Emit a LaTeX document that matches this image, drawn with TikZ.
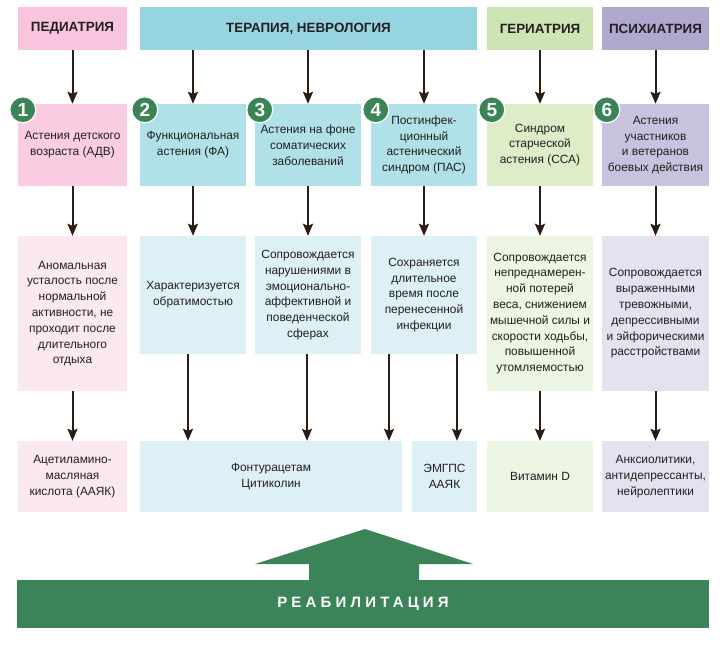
\documentclass[tikz,border=0pt]{standalone}
\usepackage{fontspec}
\setmainfont{Liberation Sans}
\usetikzlibrary{arrows.meta,positioning,calc}
\definecolor{txt}{HTML}{231F20}
\definecolor{arrc}{HTML}{2B1D14}
\definecolor{dgreen}{HTML}{3A8457}
\definecolor{pinkH}{HTML}{F9C4DE}
\definecolor{pinkM}{HTML}{FACDE3}
\definecolor{pinkL}{HTML}{FCE8F1}
\definecolor{tealH}{HTML}{96D5E0}
\definecolor{tealM}{HTML}{B0E0E8}
\definecolor{tealL}{HTML}{DDF0F5}
\definecolor{greenH}{HTML}{CDE5B4}
\definecolor{greenM}{HTML}{DCEDC8}
\definecolor{greenL}{HTML}{EDF5E3}
\definecolor{purpH}{HTML}{B0A8CF}
\definecolor{purpM}{HTML}{C8C2DF}
\definecolor{purpL}{HTML}{E4E1F0}

\begin{document}
\begin{tikzpicture}[x=1pt, y=-1pt,
  every node/.style={align=center, text=txt},
  hdr/.style={minimum height=43pt, inner sep=0pt, font=\fontsize{13.4}{15}\selectfont\bfseries},
  box/.style={inner sep=0pt, font=\fontsize{11.9}{15.8}\selectfont},
  num/.style={circle, fill=dgreen, draw=white, line width=1.2pt, minimum size=26pt,
              inner sep=0pt, text=white, font=\fontsize{19}{19}\selectfont\bfseries},
  arr/.style={-{Stealth[length=12pt, width=10pt, inset=2pt]}, line width=2pt, draw=arrc},
]
  \useasboundingbox (0,0) rectangle (720,649);

  % Top row: specialities
  \node[hdr, fill=pinkH,  minimum width=109pt] (hPed) at (72.5,28.5)  {ПЕДИАТРИЯ};
  \node[hdr, fill=tealH,  minimum width=337pt] (hTer) at (308.5,28.5) {ТЕРАПИЯ, НЕВРОЛОГИЯ};
  \node[hdr, fill=greenH, minimum width=106pt] (hGer) at (540,28.5)   {ГЕРИАТРИЯ};
  \node[hdr, fill=purpH,  minimum width=107pt] (hPsy) at (655.5,28.5) {ПСИХИАТРИЯ};

  % Second row: forms of asthenia
  \node[box, fill=pinkM,  minimum width=109pt, minimum height=82pt] (d1) at (72.5,145)
    {Астения детского\\возраста (АДВ)};
  \node[box, fill=tealM,  minimum width=106pt, minimum height=82pt] (d2) at (193,145)
    {Функциональная\\астения (ФА)};
  \node[box, fill=tealM,  minimum width=106pt, minimum height=82pt] (d3) at (308,145)
    {Астения на фоне\\соматических\\заболеваний};
  \node[box, fill=tealM,  minimum width=106pt, minimum height=82pt] (d4) at (424,145)
    {Постинфек-\\ционный\\астенический\\синдром (ПАС)};
  \node[box, fill=greenM, minimum width=106pt, minimum height=82pt] (d5) at (540,145)
    {Синдром\\старческой\\астения (ССА)};
  \node[box, fill=purpM,  minimum width=107pt, minimum height=82pt] (d6) at (655.5,145)
    {Астения\\участников\\и ветеранов\\боевых действия};

  % Numbers
  \foreach \i in {1,...,6}
    \node[num] (n\i) at ([shift={(5pt,-6pt)}]d\i.north west) {\i};

  % Third row: features
  \node[box, fill=pinkL,  minimum width=109pt, minimum height=155pt] (f1) at (72.5,313.5)
    {Аномальная\\усталость после\\нормальной\\активности, не\\проходит после\\длительного\\отдыха};
  \node[box, fill=tealL,  minimum width=106pt, minimum height=118pt] (f2) at (193,295)
    {Характеризуется\\обратимостью};
  \node[box, fill=tealL,  minimum width=106pt, minimum height=118pt] (f3) at (308,295)
    {Сопровождается\\нарушениями в\\эмоционально-\\аффективной и\\поведенческой\\сферах};
  \node[box, fill=tealL,  minimum width=106pt, minimum height=118pt] (f4) at (424,295)
    {Сохраняется\\длительное\\время после\\перенесенной\\инфекции};
  \node[box, fill=greenL, minimum width=106pt, minimum height=155pt] (f5) at (540,313.5)
    {Сопровождается\\непреднамерен-\\ной потерей\\веса, снижением\\мышечной силы и\\скорости ходьбы,\\повышенной\\утомляемостью};
  \node[box, fill=purpL,  minimum width=107pt, minimum height=155pt] (f6) at (655.5,313.5)
    {Сопровождается\\выраженными\\тревожными,\\депрессивными\\и эйфорическими\\расстройствами};

  % Bottom row: drugs
  \node[box, fill=pinkL,  minimum width=109pt, minimum height=71pt] (m1) at (72.5,476.5)
    {Ацетиламино-\\масляная\\кислота (ААЯК)};
  \node[box, fill=tealL,  minimum width=262pt, minimum height=71pt] (mFC) at (271,476.5)
    {Фонтурацетам\\Цитиколин};
  \node[box, fill=tealL,  minimum width=65pt,  minimum height=71pt] (mEM) at (444.5,476.5)
    {ЭМГПС\\ААЯК};
  \node[box, fill=greenL, minimum width=106pt, minimum height=71pt] (m5) at (540,476.5)
    {Витамин D};
  \node[box, fill=purpL,  minimum width=107pt, minimum height=71pt] (m6) at (655.5,476.5)
    {Анксиолитики,\\антидепрессанты,\\нейролептики};

  % Arrows: headers to forms
  \draw[arr] (hPed) -- (d1);
  \draw[arr] (hTer.south -| d2) -- (d2);
  \draw[arr] (hTer.south -| d3) -- (d3);
  \draw[arr] (hTer.south -| d4) -- (d4);
  \draw[arr] (hGer) -- (d5);
  \draw[arr] (hPsy) -- (d6);

  % Arrows: forms to features
  \foreach \i in {1,...,6}
    \draw[arr] (d\i) -- (f\i);

  % Arrows: features to drugs
  \draw[arr] (f1) -- (m1);
  \draw[arr] ([xshift=-5pt]f2.south) -- ([xshift=-5pt]f2.south |- mFC.north);
  \draw[arr] ([xshift=-1pt]f3.south) -- ([xshift=-1pt]f3.south |- mFC.north);
  \draw[arr] ([xshift=-35pt]f4.south) -- ([xshift=-35pt]f4.south |- mFC.north);
  \draw[arr] ([xshift=33pt]f4.south) -- ([xshift=33pt]f4.south |- mEM.north);
  \draw[arr] (f5) -- (m5);
  \draw[arr] (f6) -- (m6);

  % Rehabilitation banner
  \node[fill=dgreen, minimum width=692pt, minimum height=48pt, inner sep=0pt,
        text=white, font=\fontsize{15}{15}\selectfont\bfseries\addfontfeature{LetterSpace=28}]
    (reab) at (363,604) {РЕАБИЛИТАЦИЯ};
  \fill[dgreen] (309,580) -- (309,564) -- (255,564) -- (365,529) -- (473,564)
    -- (419,564) -- (419,580) -- cycle;
\end{tikzpicture}
\end{document}
